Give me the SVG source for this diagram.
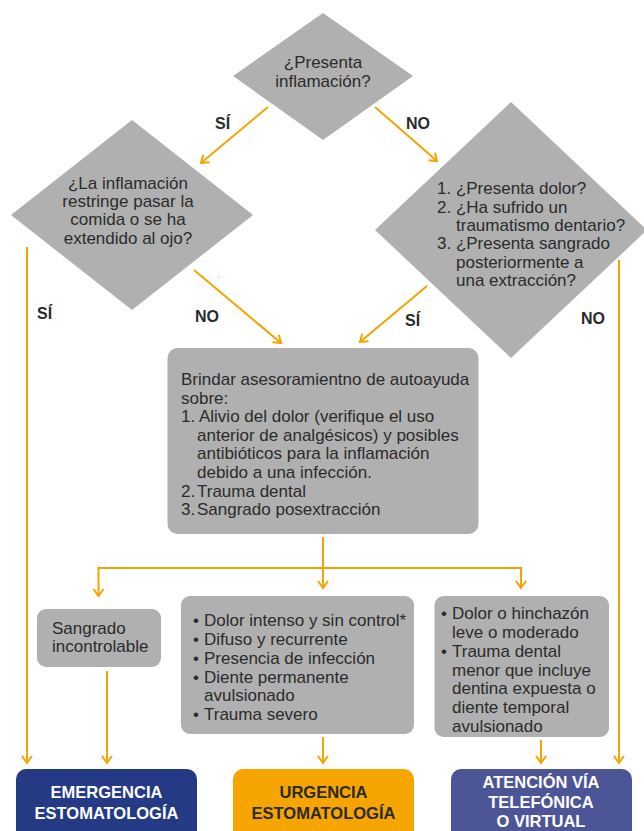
<svg xmlns="http://www.w3.org/2000/svg" width="644" height="831" viewBox="0 0 644 831">
<defs>
<marker id="ah" viewBox="-10 -6 12 12" refX="0" refY="0" markerWidth="12" markerHeight="12" markerUnits="userSpaceOnUse" orient="auto">
<path d="M-7,-5 L0,0 L-7,5" fill="none" stroke="#f5a300" stroke-width="2"/>
</marker>
</defs>
<style>
.g{fill:#b0b0b0}
.t{font-family:"Liberation Sans",Arial,sans-serif;font-size:17px;fill:#2b2b2b}
.c{text-anchor:middle}
.lb{font-family:"Liberation Sans",Arial,sans-serif;font-size:16px;font-weight:bold;fill:#2b2b2b}
.bt{font-family:"Liberation Sans",Arial,sans-serif;font-size:16.5px;font-weight:bold;text-anchor:middle}
.ln{fill:none;stroke:#f5a300;stroke-width:2}
.ar{fill:none;stroke:#f5a300;stroke-width:2;marker-end:url(#ah)}
</style>
<rect width="644" height="831" fill="#ffffff"/>

<g id="connectors">
<line class="ar" x1="268" y1="107" x2="201" y2="163"/>
<line class="ar" x1="375" y1="107" x2="437" y2="161"/>
<line class="ar" x1="194" y1="270" x2="281" y2="343"/>
<line class="ar" x1="427" y1="286" x2="360" y2="342"/>
<line class="ar" x1="27" y1="247" x2="27" y2="763"/>
<line class="ar" x1="619" y1="260" x2="619" y2="763"/>
<line class="ln" x1="323" y1="537" x2="323" y2="568"/>
<line class="ln" x1="98.5" y1="568" x2="521" y2="568"/>
<line class="ar" x1="98.5" y1="567" x2="98.5" y2="596"/>
<line class="ar" x1="323" y1="567" x2="323" y2="588"/>
<line class="ar" x1="521" y1="567" x2="521" y2="588"/>
<line class="ar" x1="107" y1="671" x2="107" y2="763"/>
<line class="ar" x1="323" y1="737" x2="323" y2="763"/>
<line class="ar" x1="541" y1="740" x2="541" y2="763"/>
<text class="lb" x="215" y="129">SÍ</text>
<text class="lb" x="406" y="129">NO</text>
<text class="lb" x="195" y="322">NO</text>
<text class="lb" x="405" y="326">SÍ</text>
<text class="lb" x="37" y="319">SÍ</text>
<text class="lb" x="581" y="324">NO</text>
</g>

<g id="q1">
<polygon class="g" points="323,13 413,76 323,140 233,76"/>
<text class="t c" x="323" y="68">¿Presenta</text>
<text class="t c" x="323" y="86.5">inflamación?</text>
</g>

<g id="q2">
<polygon class="g" points="132,120 253,215 132,310 11,215"/>
<text class="t c" x="128" y="189">¿La inflamación</text>
<text class="t c" x="128" y="207">restringe pasar la</text>
<text class="t c" x="128" y="225">comida o se ha</text>
<text class="t c" x="128" y="244">extendido al ojo?</text>
</g>

<g id="q3">
<polygon class="g" points="511,102 647,230 511,358 375,230"/>
<text class="t" x="437" y="194">1. ¿Presenta dolor?</text>
<text class="t" x="437" y="213">2. ¿Ha sufrido un</text>
<text class="t" x="456" y="231">traumatismo dentario?</text>
<text class="t" x="437" y="249">3. ¿Presenta sangrado</text>
<text class="t" x="456" y="268">posteriormente a</text>
<text class="t" x="456" y="286">una extracción?</text>
</g>

<g id="advice">
<rect class="g" x="167.5" y="348" width="311" height="186" rx="10"/>
<text class="t" x="181" y="385">Brindar asesoramientno de autoayuda</text>
<text class="t" x="181" y="404">sobre:</text>
<text class="t" x="181" y="422">1. Alivio del dolor (verifique el uso</text>
<text class="t" x="197" y="441">anterior de analgésicos) y posibles</text>
<text class="t" x="197" y="459">antibióticos para la inflamación</text>
<text class="t" x="197" y="478">debido a una infección.</text>
<text class="t" x="181" y="497">2.</text><text class="t" x="197" y="497">Trauma dental</text>
<text class="t" x="181" y="515">3.</text><text class="t" x="197" y="515">Sangrado posextracción</text>
</g>

<g id="bleeding">
<rect class="g" x="37" y="609" width="124" height="58" rx="9"/>
<text class="t" x="52" y="634">Sangrado</text>
<text class="t" x="52" y="652">incontrolable</text>
</g>

<g id="urgent-list">
<rect class="g" x="181" y="596" width="233" height="138" rx="9"/>
<text class="t" x="193" y="626">•</text><text class="t" x="204" y="626">Dolor intenso y sin control*</text>
<text class="t" x="193" y="645">•</text><text class="t" x="204" y="645">Difuso y recurrente</text>
<text class="t" x="193" y="664">•</text><text class="t" x="204" y="664">Presencia de infección</text>
<text class="t" x="193" y="683">•</text><text class="t" x="204" y="683">Diente permanente</text>
<text class="t" x="204" y="701">avulsionado</text>
<text class="t" x="193" y="720">•</text><text class="t" x="204" y="720">Trauma severo</text>
</g>

<g id="mild-list">
<rect class="g" x="434.5" y="596" width="174.5" height="141" rx="9"/>
<text class="t" x="441" y="619">•</text><text class="t" x="452" y="619">Dolor o hinchazón</text>
<text class="t" x="452" y="638">leve o moderado</text>
<text class="t" x="441" y="657">•</text><text class="t" x="452" y="657">Trauma dental</text>
<text class="t" x="452" y="676">menor que incluye</text>
<text class="t" x="452" y="694">dentina expuesta o</text>
<text class="t" x="452" y="713">diente temporal</text>
<text class="t" x="452" y="732">avulsionado</text>
</g>

<g id="emergencia">
<rect x="16" y="769" width="181" height="75" rx="10" fill="#243a85"/>
<text class="bt" x="106.5" y="798" fill="#ffffff">EMERGENCIA</text>
<text class="bt" x="106.5" y="819" fill="#ffffff">ESTOMATOLOGÍA</text>
</g>

<g id="urgencia">
<rect x="233" y="769" width="181" height="75" rx="10" fill="#f5a400"/>
<text class="bt" x="323.5" y="798" fill="#2a2a2a">URGENCIA</text>
<text class="bt" x="323.5" y="819" fill="#2a2a2a">ESTOMATOLOGÍA</text>
</g>

<g id="atencion">
<rect x="451" y="769" width="181" height="75" rx="10" fill="#4c5596"/>
<text class="bt" x="541" y="788" fill="#ffffff">ATENCIÓN VÍA</text>
<text class="bt" x="541" y="808" fill="#ffffff">TELEFÓNICA</text>
<text class="bt" x="541" y="827" fill="#ffffff">O VIRTUAL</text>
</g>
</svg>
